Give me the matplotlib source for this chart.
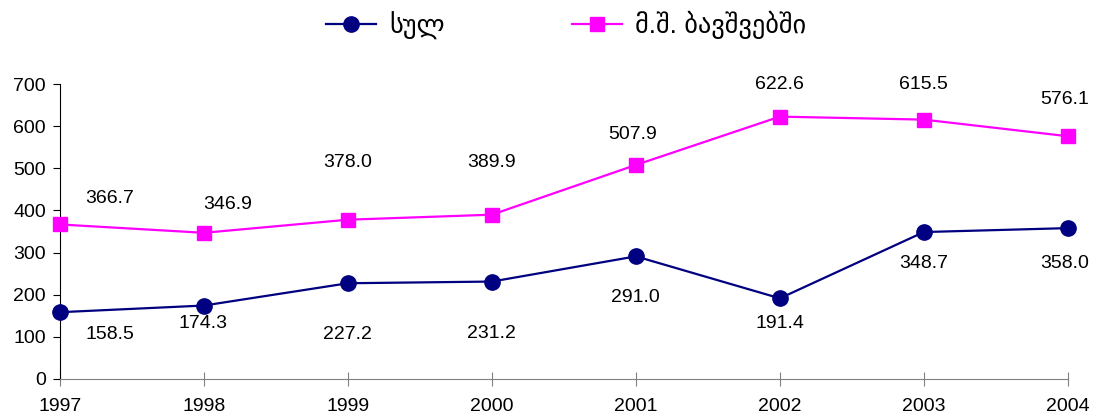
import matplotlib
matplotlib.use("Agg")
import matplotlib.pyplot as plt

plt.rcParams['font.family'] = ['Liberation Sans', 'DejaVu Sans']

years = [1997, 1998, 1999, 2000, 2001, 2002, 2003, 2004]
total = [158.5, 174.3, 227.2, 231.2, 291.0, 191.4, 348.7, 358.0]
children = [366.7, 346.9, 378.0, 389.9, 507.9, 622.6, 615.5, 576.1]
series_names = ['სულ', 'მ.შ. ბავშვებში']

# label offsets in pixels (dx, dy), roughly where Excel put them
total_off = [(50, -22), (-1, -18), (0, -51), (0, -52), (0, -41), (0, -25), (0, -31), (-3, -35)]
child_off = [(50, 26), (24, 28), (0, 57), (0, 52), (-3, 30), (0, 32), (0, 35), (-3, 37)]

fig = plt.figure(figsize=(11.1, 4.19), dpi=100)
ax = fig.add_axes([0.054, 0.0955, 0.908, 0.704])

l1, = ax.plot(years, total, color='#000080', lw=1.6, marker='o', ms=11,
              markerfacecolor='#000080', markeredgecolor='#000080', clip_on=False, zorder=3)
l2, = ax.plot(years, children, color='#FF00FF', lw=1.6, marker='s', ms=9.5,
              markerfacecolor='#FF00FF', markeredgecolor='#FF00FF', clip_on=False, zorder=3)

for x, y, (dx, dy) in zip(years, total, total_off):
    ax.annotate(f"{y:.1f}", (x, y), xytext=(dx * 0.72, dy * 0.72), textcoords='offset points',
                ha='center', va='center', fontsize=14)
for x, y, (dx, dy) in zip(years, children, child_off):
    ax.annotate(f"{y:.1f}", (x, y), xytext=(dx * 0.72, dy * 0.72), textcoords='offset points',
                ha='center', va='center', fontsize=14)

ax.set_xlim(years[0], years[-1])
ax.set_ylim(0, 700)
ax.set_yticks(range(0, 701, 100))
ax.set_xticks(years)
ax.tick_params(axis='y', direction='out', length=5, labelsize=14, pad=5)
ax.tick_params(axis='x', direction='inout', length=10, labelsize=14, pad=9, color='#808080')
ax.spines['top'].set_visible(False)
ax.spines['right'].set_visible(False)
ax.spines['bottom'].set_color('#808080')
ax.spines['left'].set_color('black')

fig.legend([l1, l2], series_names, loc='upper center', bbox_to_anchor=(0.51, 1.03),
           ncol=2, frameon=False, fontsize=19, columnspacing=4.8, handlelength=1.9,
           handletextpad=0.5)

fig.savefig('out.png', dpi=100)
